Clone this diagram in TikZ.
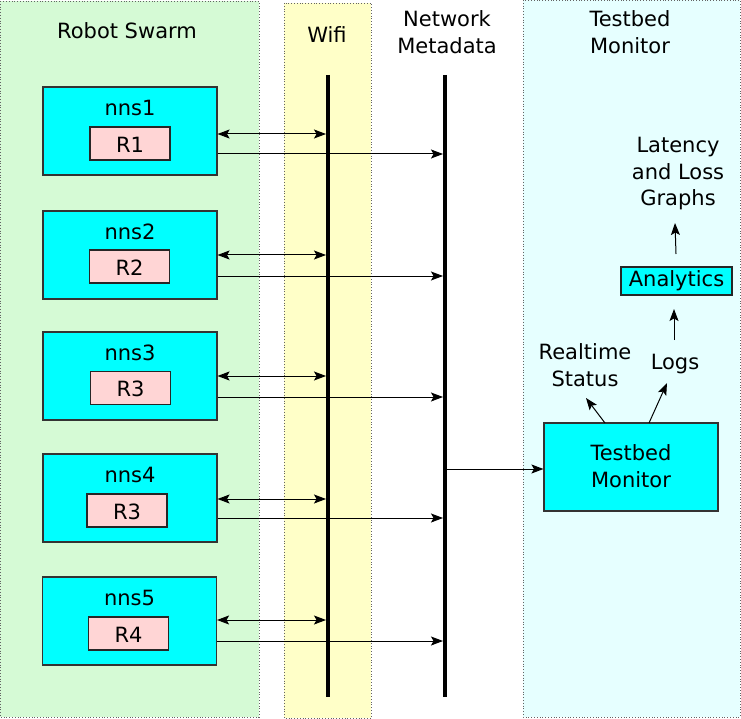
\documentclass[tikz,border=0pt]{standalone}
\usepackage{fontspec}
\setmainfont{DejaVu Sans}
\usetikzlibrary{arrows.meta}
\definecolor{swarmbg}{RGB}{213,250,213}
\definecolor{wifibg}{RGB}{255,255,200}
\definecolor{monbg}{RGB}{230,255,255}
\definecolor{nnscol}{RGB}{0,255,255}
\definecolor{rcol}{RGB}{255,213,213}
\definecolor{regborder}{RGB}{100,100,100}
\tikzset{
  region/.style={draw=regborder, dotted, line width=0.8pt},
  nnsbox/.style={draw=black!80, fill=nnscol, line width=1.1pt, rectangle, minimum width=174pt, minimum height=88pt, inner sep=0pt},
  rbox/.style={draw=black!85, fill=rcol, line width=1.1pt, rectangle, minimum width=80pt, minimum height=33pt, inner sep=0pt},
  txt/.style={font=\fontsize{21}{26.5}\selectfont, inner sep=0pt, align=center},
  bus/.style={line width=4pt},
  conn/.style={line width=1pt, -{Stealth[length=12pt,width=9pt,inset=2.5pt]}},
  dconn/.style={line width=1pt, {Stealth[length=12pt,width=9pt,inset=2.5pt]}-{Stealth[length=12pt,width=9pt,inset=2.5pt]}},
}
\begin{document}
\begin{tikzpicture}[x=1pt,y=-1pt]
\useasboundingbox (0,0) rectangle (741,719);
% regions
\fill[swarmbg] (0,1) rectangle (259,717);
\draw[region] (0,1) rectangle (259,717);
\fill[wifibg] (284,3) rectangle (371,718);
\draw[region] (284,3) rectangle (371,718);
\fill[monbg] (523,0) rectangle (740,717);
\draw[region] (523,0) rectangle (740,717);
% titles
\node[txt] (tswarm) at (127,31) {Robot Swarm};
\node[txt] (twifi) at (327,35) {Wifi};
\node[txt] (tnet) at (447,32) {Network\\Metadata};
\node[txt] (tmon) at (630,32) {Testbed\\Monitor};
% buses
\coordinate (wtop) at (328,75);
\coordinate (wbot) at (328,697);
\coordinate (ntop) at (445,75);
\coordinate (nbot) at (445,697);
\draw[bus] (wtop) -- (wbot);
\draw[bus] (ntop) -- (nbot);
% nns boxes
\foreach \i/\t/\rl/\rx/\ry/\da/\sa/\lx in {1/87/R1/130/143.5/134/154/130, 2/211/R2/129.5/266.5/255/276/130, 3/332/R3/130.5/388/376/397/130, 4/454/R3/127/510.5/499/518/130, 5/577/R4/128.5/633.5/620/641/129.5}{
  \node[nnsbox] (nns\i) at (\lx,\t+44) {};
  \node[txt] (lab\i) at (\lx,\t+21) {nns\i};
  \node[rbox] (r\i) at (\rx,\ry) {};
  \node[txt] (rl\i) at (\rx,\ry+1) {\rl};
  \coordinate (wa\i) at (326,\da);
  \coordinate (na\i) at (443,\sa);
  \draw[dconn] (nns\i.east |- wa\i) -- (wa\i);
  \draw[conn] (nns\i.east |- na\i) -- (na\i);
}
% monitor
\node[nnsbox] (mon) at (631,467) {};
\node[txt] (monl) at (631,466) {Testbed\\Monitor};
\coordinate (nm) at (446,469);
\draw[conn] (nm) -- (mon.west |- nm);
\node[txt] (rts) at (585,365) {Realtime\\Status};
\node[txt] (logs) at (675,364) {Logs};
\node[draw=black!85, fill=nnscol, line width=1.1pt, rectangle, minimum width=111pt, minimum height=28pt, inner sep=0pt] (ana) at (676.5,281) {};
\node[txt] (anal) at (676.5,281) {Analytics};
\node[txt] (lat) at (678,174) {Latency\\and Loss\\Graphs};
\coordinate (m1) at (605,423);
\coordinate (m2) at (649,423);
\draw[conn] (m1) -- (586,398);
\draw[conn] (m2) -- (667,383);
\draw[conn] (674,340) -- (674,309);
\draw[conn] (676,254) -- (675,223);
\end{tikzpicture}
\end{document}
